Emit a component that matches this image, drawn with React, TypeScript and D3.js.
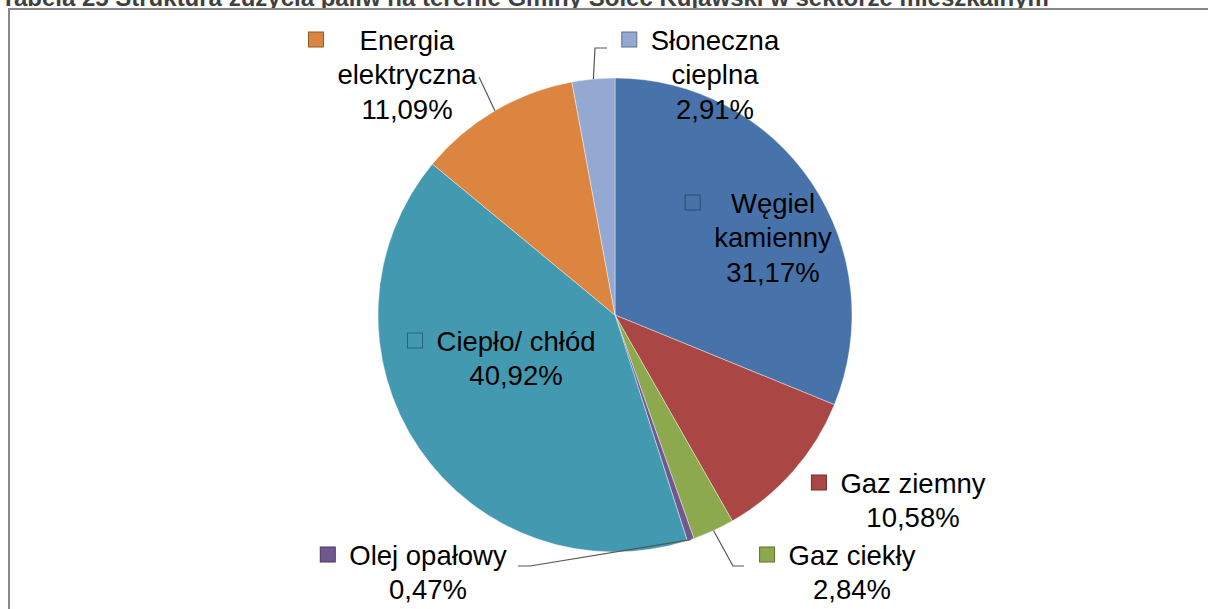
import React from "react";
import * as d3 from "d3";

const categories = [
  "Węgiel kamienny",
  "Gaz ziemny",
  "Gaz ciekły",
  "Olej opałowy",
  "Ciepło/ chłód",
  "Energia elektryczna",
  "Słoneczna cieplna",
];
const values = [31.17, 10.58, 2.84, 0.47, 40.92, 11.09, 2.91];
const labelLines = [
  ["Węgiel", "kamienny"],
  ["Gaz ziemny"],
  ["Gaz ciekły"],
  ["Olej opałowy"],
  ["Ciepło/ chłód"],
  ["Energia", "elektryczna"],
  ["Słoneczna", "cieplna"],
];
const colors = ["#4773aa", "#aa4644", "#8ca94d", "#70588f", "#4399b0", "#db8540", "#94a9d2"];
const title = "Tabela 25 Struktura zużycia paliw na terenie Gminy Solec Kujawski w sektorze mieszkalnym";

const W = 1208;
const H = 609;
const cx = 615;
const cy = 315;
const R = 237;
const FONT = 27.5;
const LH = 34.5;
const KEY = 14;

// label block anchor (centre of first line), relative to the pie centre
const labelPos: [number, number][] = [
  [158, -112],
  [298, 168],
  [237, 240],
  [-187, 240],
  [-99, 26],
  [-208, -275],
  [100, -275],
];
// leader elbows, relative to the pie centre (null = no leader)
const leaders: ([number, number][] | null)[] = [
  null,
  null,
  [[118, 251], [129, 251]],
  [[-85, 251], [-97, 251]],
  null,
  [[-136, -238]],
  [[-20, -267], [-8, -267]],
];

const fmt = (v: number) => v.toFixed(2).replace(".", ",") + "%";

let ctx: CanvasRenderingContext2D | null = null;
const measure = (s: string) => {
  if (!ctx) ctx = document.createElement("canvas").getContext("2d");
  if (!ctx) return s.length * FONT * 0.5;
  ctx.font = `${FONT}px "Liberation Sans", Arial, sans-serif`;
  return ctx.measureText(s).width;
};

export default function App() {
  const pie = d3.pie<number>().sort(null).value((d) => d)(values);
  const arc = d3.arc<d3.PieArcDatum<number>>().innerRadius(0).outerRadius(R);

  return (
    <svg
      width={W}
      height={H}
      style={{ position: "absolute", left: 0, top: 0, background: "#fff" }}
      fontFamily='"Liberation Sans", Arial, sans-serif'
    >
      <text x={1} y={6} fontSize={24} fontWeight="bold" fill="#404040">
        {title}
      </text>
      <rect x={9} y={9} width={W + 20} height={H + 20} fill="#fff" stroke="#888" strokeWidth={2} />
      <g transform={`translate(${cx},${cy})`}>
        {pie.map((p, i) => (
          <path key={categories[i]} d={arc(p) || ""} fill={colors[i]} stroke="#fff" strokeOpacity={0.5} strokeWidth={0.8} />
        ))}
        {pie.map((p, i) => {
          const pts = leaders[i];
          if (!pts) return null;
          const a = (p.startAngle + p.endAngle) / 2;
          const start: [number, number] = [R * Math.sin(a), -R * Math.cos(a)];
          return (
            <polyline
              key={"l" + i}
              points={[start, ...pts].map((q) => q.join(",")).join(" ")}
              fill="none"
              stroke="#555"
              strokeWidth={1.2}
            />
          );
        })}
        {pie.map((p, i) => {
          const [lx, ly] = labelPos[i];
          const lines = [...labelLines[i], fmt(values[i])];
          const maxW = d3.max(lines, measure) || 0;
          const left = lx - maxW / 2;
          return (
            <g key={"t" + i}>
              <rect
                x={left - 15 - KEY}
                y={ly - KEY / 2 - 1}
                width={KEY + 1}
                height={KEY + 1}
                fill={colors[i]}
                stroke={d3.color(colors[i])?.darker(1.2).toString()}
                strokeWidth={1}
              />
              {lines.map((s, j) => (
                <text
                  key={j}
                  x={lx}
                  y={ly + j * LH}
                  dy="0.36em"
                  textAnchor="middle"
                  fontSize={FONT}
                  fill="#000"
                >
                  {s}
                </text>
              ))}
            </g>
          );
        })}
      </g>
    </svg>
  );
}
